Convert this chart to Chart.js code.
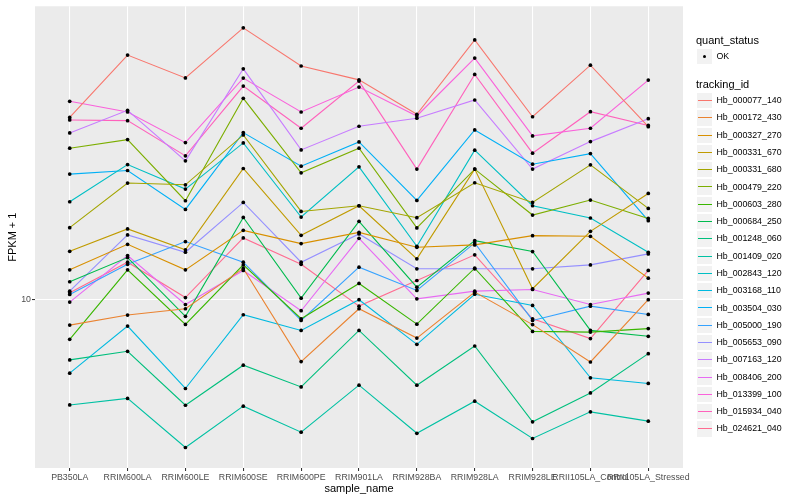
<!DOCTYPE html>
<html><head><meta charset="utf-8">
<script src="https://cdn.jsdelivr.net/npm/chart.js@4.4.1/dist/chart.umd.min.js"></script>
<style>
body{margin:0;background:#fff;}
#wrap{position:relative;width:800px;height:500px;overflow:hidden;}
canvas{position:absolute;left:0;top:0;}
.lg{position:absolute;font-family:"Liberation Sans",Arial,sans-serif;color:#000;white-space:nowrap;line-height:1;}
.ttl{font-size:11px;}
.txt{font-size:8.8px;}
.key{position:absolute;background:#F2F2F2;box-sizing:border-box;border:0.5px solid #fff;}
.seg{position:absolute;height:1.2px;}
.dot{position:absolute;width:3.6px;height:3.6px;border-radius:50%;background:#000;}
</style></head><body>
<div id="wrap"><canvas id="c" width="800" height="500"></canvas><div id="legend"></div></div>
<script>
const categories = ["PB350LA","RRIM600LA","RRIM600LE","RRIM600SE","RRIM600PE","RRIM901LA","RRIM928BA","RRIM928LA","RRIM928LE","RRII105LA_Control","RRII105LA_Stressed"];
const trackingIds = ["Hb_000077_140","Hb_000172_430","Hb_000327_270","Hb_000331_670","Hb_000331_680","Hb_000479_220","Hb_000603_280","Hb_000684_250","Hb_001248_060","Hb_001409_020","Hb_002843_120","Hb_003168_110","Hb_003504_030","Hb_005000_190","Hb_005653_090","Hb_007163_120","Hb_008406_200","Hb_013399_100","Hb_015934_040","Hb_024621_040"];
const colors = ["#F8766D","#EA8331","#D89000","#C09B00","#A3A500","#7CAE00","#39B600","#00BB4E","#00BF7D","#00C1A3","#00BFC4","#00BAE0","#00B0F6","#35A2FF","#9590FF","#C77CFF","#E76BF3","#FA62DB","#FF62BC","#FF6C91"];
const yTicks = [10];
const qualityLabels = ["OK"];

const hb_000077_140 = [40.6, 65.6, 55.0, 80.9, 60.3, 54.2, 41.6, 73.7, 40.8, 60.7, 37.8];
const hb_000172_430 = [8.21, 8.87, 9.31, 12.7, 6.20, 9.31, 7.43, 10.58, 8.24, 6.18, 9.98];
const hb_000327_270 = [12.56, 15.29, 12.56, 17.02, 15.37, 16.76, 14.94, 15.22, 16.34, 16.26, 11.78];
const hb_000331_670 = [14.49, 17.21, 14.65, 27.40, 16.38, 20.57, 13.67, 27.27, 10.86, 16.89, 22.61];
const hb_000331_680 = [17.38, 24.50, 24.17, 35.48, 19.69, 20.57, 18.76, 24.55, 21.10, 28.18, 20.15];
const hb_000479_220 = [32.04, 34.22, 21.38, 47.02, 26.50, 32.04, 17.34, 27.27, 19.15, 21.49, 18.66];
const hb_000603_280 = [7.36, 12.56, 8.25, 13.05, 8.62, 11.31, 8.27, 12.72, 7.82, 7.78, 7.99];
const hb_000684_250 = [11.46, 13.80, 8.78, 18.80, 10.10, 18.24, 10.99, 15.73, 14.46, 7.88, 7.53];
const hb_001248_060 = [6.28, 6.71, 4.43, 6.03, 5.10, 7.88, 5.17, 6.99, 3.90, 4.87, 6.59];
const hb_001409_020 = [4.44, 4.67, 3.20, 4.40, 3.60, 5.17, 3.57, 4.57, 3.43, 4.21, 3.92];
const hb_002843_120 = [21.21, 28.25, 23.39, 33.36, 18.86, 27.75, 15.06, 31.55, 20.57, 18.72, 14.38];
const hb_003168_110 = [5.67, 8.15, 5.04, 8.89, 7.88, 9.98, 7.08, 10.41, 9.55, 5.47, 5.24];
const hb_003504_030 = [26.24, 26.98, 20.00, 36.12, 27.90, 33.63, 21.43, 36.87, 28.33, 30.73, 18.33];
const hb_005000_190 = [10.39, 13.11, 15.61, 13.32, 8.51, 12.82, 10.72, 15.45, 8.51, 9.50, 8.91];
const hb_005653_090 = [10.66, 16.43, 14.38, 21.10, 13.32, 16.56, 12.66, 12.66, 12.66, 13.05, 14.20];
const hb_007163_120 = [36.03, 42.88, 29.06, 59.01, 31.62, 37.93, 40.34, 46.42, 27.27, 33.70, 40.20];
const hb_008406_200 = [9.80, 14.02, 9.62, 12.50, 9.17, 16.01, 10.05, 10.66, 10.80, 9.62, 10.50];
const hb_013399_100 = [45.95, 42.33, 33.44, 54.95, 42.33, 51.29, 41.05, 64.08, 35.21, 37.35, 54.12];
const hb_015934_040 = [39.81, 39.60, 30.20, 51.68, 37.35, 53.70, 27.27, 56.53, 30.83, 42.43, 38.17];
const hb_024621_040 = [10.53, 13.32, 10.15, 16.06, 13.11, 9.50, 11.57, 14.10, 8.62, 7.40, 12.50];

const series = [hb_000077_140, hb_000172_430, hb_000327_270, hb_000331_670, hb_000331_680, hb_000479_220, hb_000603_280, hb_000684_250, hb_001248_060, hb_001409_020, hb_002843_120, hb_003168_110, hb_003504_030, hb_005000_190, hb_005653_090, hb_007163_120, hb_008406_200, hb_013399_100, hb_015934_040, hb_024621_040];

const FONT = '"Liberation Sans", Arial, sans-serif';
const datasets = [];
series.forEach((vals, i) => {
  datasets.push({
    label: trackingIds[i],
    data: vals.map((v, j) => ({x: j, y: v})),
    showLine: true,
    borderColor: colors[i],
    borderWidth: 1.1,
    pointRadius: 0,
    order: 2
  });
});
const allPoints = [];
series.forEach(vals => vals.forEach((v, j) => allPoints.push({x: j, y: v})));
datasets.push({
  label: 'OK',
  data: allPoints,
  showLine: false,
  pointRadius: 1.85,
  pointBackgroundColor: '#000',
  pointBorderWidth: 0,
  order: 0
});

const panelBg = {
  id: 'panelBg',
  beforeDraw(chart) {
    const a = chart.chartArea, ctx = chart.ctx;
    ctx.save();
    ctx.fillStyle = '#EBEBEB';
    ctx.fillRect(a.left, a.top, a.right - a.left, a.bottom - a.top);
    ctx.restore();
  }
};

new Chart(document.getElementById('c'), {
  type: 'scatter',
  data: {datasets},
  plugins: [panelBg],
  options: {
    responsive: false,
    animation: false,
    devicePixelRatio: 1,
    layout: {padding: {top: 5, right: 117, left: 0, bottom: 0}},
    plugins: {legend: {display: false}, tooltip: {enabled: false}},
    scales: {
      x: {
        type: 'linear', min: -0.6, max: 10.6,
        afterBuildTicks: s => { s.ticks = categories.map((c, i) => ({value: i})); },
        afterFit: s => { s.height = 32; },
        ticks: {callback: v => categories[v], autoSkip: false, maxRotation: 0, minRotation: 0,
                color: '#4D4D4D', font: {family: FONT, size: 8.8}, padding: 1},
        grid: {color: '#FFFFFF', lineWidth: 1.07, tickColor: '#333333', tickLength: 3},
        border: {display: false},
        title: {display: true, text: 'sample_name', color: '#000', font: {family: FONT, size: 11}, padding: {top: 0, bottom: 4}}
      },
      y: {
        type: 'logarithmic', min: 2.733, max: 95.5,
        afterBuildTicks: s => { s.ticks = yTicks.map(v => ({value: v})); },
        afterFit: s => { s.width = 35; },
        ticks: {callback: v => String(v), color: '#4D4D4D', font: {family: FONT, size: 8.8}, padding: 1},
        grid: {color: '#FFFFFF', lineWidth: 1.07, tickColor: '#333333', tickLength: 3},
        border: {display: false},
        title: {display: true, text: 'FPKM + 1', color: '#000', font: {family: FONT, size: 11}, padding: {top: 6, bottom: 2}}
      }
    }
  }
});

// legend
const lg = document.getElementById('legend');
function add(html) { lg.insertAdjacentHTML('beforeend', html); }
const LX = 696, KW = 17.3;
add(`<div class="lg ttl" style="left:${LX}px;top:35px;">quant_status</div>`);
add(`<div class="key" style="left:${LX}px;top:48px;width:${KW}px;height:${KW}px;"></div>`);
add(`<div class="dot" style="left:${LX + KW/2 - 1.8}px;top:${48 + KW/2 - 1.8}px;"></div>`);
add(`<div class="lg txt" style="left:${LX + 20.5}px;top:${48 + KW/2 - 4.5}px;">${qualityLabels[0]}</div>`);
add(`<div class="lg ttl" style="left:${LX}px;top:78.5px;">tracking_id</div>`);
trackingIds.forEach((id, i) => {
  const top = 92 + i * 17.28;
  add(`<div class="key" style="left:${LX}px;top:${top}px;width:${KW}px;height:${KW}px;"></div>`);
  add(`<div class="seg" style="left:${LX + 1.5}px;top:${Math.round(top + KW/2 - 0.6)}px;width:${KW - 3}px;background:${colors[i]};"></div>`);
  add(`<div class="lg txt" style="left:${LX + 20.5}px;top:${top + KW/2 - 4.5}px;">${id}</div>`);
});
</script>
</body></html>
